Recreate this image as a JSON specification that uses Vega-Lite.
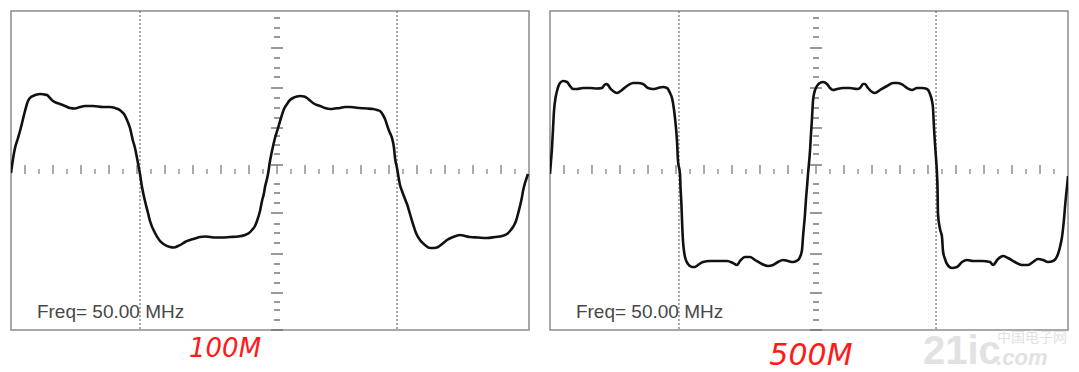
{
  "$schema": "https://vega.github.io/schema/vega-lite/v6.json",
  "background": "white",
  "padding": {"left": 10, "top": 9, "right": 0, "bottom": 0},
  "spacing": 21,
  "bounds": "flush",
  "config": {"view": {"stroke": "#8c8c8c", "strokeWidth": 1.5}},
  "datasets": {
    "wave100": [
      {"t":0,"v":0.025},{"t":0.154,"v":0.375},{"t":0.309,"v":0.65},{"t":0.541,"v":0.9},{"t":0.695,"v":1.075},{"t":0.927,"v":1.375},{"t":1.081,"v":1.575},{"t":1.313,"v":1.825},{"t":1.544,"v":1.925},{"t":1.699,"v":1.95},{"t":2.008,"v":1.988},{"t":2.239,"v":2.0},{"t":2.548,"v":1.988},{"t":2.78,"v":1.975},{"t":3.012,"v":1.9},{"t":3.243,"v":1.825},{"t":3.552,"v":1.775},{"t":3.784,"v":1.75},{"t":4.17,"v":1.7},{"t":4.556,"v":1.65},{"t":4.942,"v":1.638},{"t":5.328,"v":1.675},{"t":5.714,"v":1.7},{"t":6.332,"v":1.7},{"t":7.104,"v":1.675},{"t":7.645,"v":1.675},{"t":8.031,"v":1.65},{"t":8.263,"v":1.625},{"t":8.494,"v":1.575},{"t":8.726,"v":1.5},{"t":8.958,"v":1.35},{"t":9.189,"v":1.15},{"t":9.421,"v":0.825},{"t":9.575,"v":0.65},{"t":9.73,"v":0.4},{"t":9.846,"v":0.2},{"t":9.961,"v":0},{"t":10.116,"v":-0.325},{"t":10.347,"v":-0.675},{"t":10.579,"v":-0.975},{"t":10.734,"v":-1.175},{"t":11.12,"v":-1.475},{"t":11.506,"v":-1.675},{"t":11.892,"v":-1.775},{"t":12.278,"v":-1.825},{"t":12.587,"v":-1.838},{"t":12.896,"v":-1.8},{"t":13.205,"v":-1.75},{"t":13.436,"v":-1.7},{"t":13.822,"v":-1.65},{"t":14.208,"v":-1.613},{"t":14.595,"v":-1.575},{"t":14.981,"v":-1.563},{"t":15.367,"v":-1.575},{"t":15.753,"v":-1.588},{"t":16.293,"v":-1.588},{"t":16.911,"v":-1.575},{"t":17.529,"v":-1.563},{"t":18.069,"v":-1.525},{"t":18.378,"v":-1.475},{"t":18.61,"v":-1.4},{"t":18.842,"v":-1.3},{"t":18.996,"v":-1.175},{"t":19.228,"v":-0.925},{"t":19.382,"v":-0.675},{"t":19.537,"v":-0.475},{"t":19.614,"v":-0.325},{"t":19.768,"v":-0.125},{"t":19.846,"v":0},{"t":20.0,"v":0.325},{"t":20.154,"v":0.575},{"t":20.386,"v":0.9},{"t":20.618,"v":1.15},{"t":20.849,"v":1.4},{"t":21.081,"v":1.625},{"t":21.313,"v":1.75},{"t":21.544,"v":1.85},{"t":21.776,"v":1.9},{"t":22.085,"v":1.938},{"t":22.317,"v":1.95},{"t":22.626,"v":1.938},{"t":22.857,"v":1.9},{"t":23.089,"v":1.838},{"t":23.32,"v":1.775},{"t":23.629,"v":1.725},{"t":23.861,"v":1.7},{"t":24.247,"v":1.65},{"t":24.633,"v":1.625},{"t":25.019,"v":1.638},{"t":25.405,"v":1.65},{"t":25.791,"v":1.675},{"t":26.177,"v":1.675},{"t":26.563,"v":1.663},{"t":26.95,"v":1.65},{"t":27.49,"v":1.638},{"t":27.954,"v":1.625},{"t":28.263,"v":1.6},{"t":28.494,"v":1.575},{"t":28.726,"v":1.475},{"t":28.88,"v":1.375},{"t":29.112,"v":1.15},{"t":29.266,"v":1.025},{"t":29.421,"v":0.9},{"t":29.575,"v":0.65},{"t":29.653,"v":0.4},{"t":29.807,"v":0.15},{"t":29.884,"v":0},{"t":30.039,"v":-0.275},{"t":30.193,"v":-0.425},{"t":30.425,"v":-0.625},{"t":30.579,"v":-0.75},{"t":30.811,"v":-1.0},{"t":31.042,"v":-1.25},{"t":31.274,"v":-1.475},{"t":31.583,"v":-1.65},{"t":31.969,"v":-1.775},{"t":32.355,"v":-1.85},{"t":32.664,"v":-1.85},{"t":32.973,"v":-1.825},{"t":33.282,"v":-1.75},{"t":33.668,"v":-1.65},{"t":34.131,"v":-1.575},{"t":34.672,"v":-1.525},{"t":35.058,"v":-1.55},{"t":35.444,"v":-1.575},{"t":36.062,"v":-1.588},{"t":36.757,"v":-1.6},{"t":37.375,"v":-1.575},{"t":37.915,"v":-1.55},{"t":38.301,"v":-1.5},{"t":38.533,"v":-1.425},{"t":38.764,"v":-1.325},{"t":38.996,"v":-1.175},{"t":39.151,"v":-1.0},{"t":39.305,"v":-0.8},{"t":39.459,"v":-0.575},{"t":39.537,"v":-0.425},{"t":39.691,"v":-0.225},{"t":39.846,"v":-0.075},{"t":39.923,"v":0}
    ],
    "wave500": [
      {"t":0,"v":0},{"t":0.077,"v":0.325},{"t":0.154,"v":0.65},{"t":0.232,"v":1.125},{"t":0.309,"v":1.575},{"t":0.425,"v":1.9},{"t":0.541,"v":2.075},{"t":0.656,"v":2.2},{"t":0.772,"v":2.275},{"t":1.004,"v":2.325},{"t":1.313,"v":2.3},{"t":1.544,"v":2.2},{"t":1.776,"v":2.125},{"t":2.085,"v":2.125},{"t":2.548,"v":2.15},{"t":3.089,"v":2.15},{"t":3.629,"v":2.138},{"t":4.015,"v":2.15},{"t":4.17,"v":2.213},{"t":4.324,"v":2.25},{"t":4.479,"v":2.225},{"t":4.633,"v":2.15},{"t":4.865,"v":2.075},{"t":5.174,"v":2.025},{"t":5.56,"v":2.1},{"t":5.946,"v":2.2},{"t":6.409,"v":2.275},{"t":6.795,"v":2.275},{"t":7.181,"v":2.25},{"t":7.568,"v":2.15},{"t":7.954,"v":2.125},{"t":8.34,"v":2.15},{"t":8.726,"v":2.175},{"t":9.035,"v":2.15},{"t":9.266,"v":2.025},{"t":9.421,"v":1.9},{"t":9.498,"v":1.775},{"t":9.653,"v":1.4},{"t":9.807,"v":0.825},{"t":9.884,"v":0.325},{"t":10.039,"v":0},{"t":10.077,"v":-0.325},{"t":10.154,"v":-0.8},{"t":10.193,"v":-1.15},{"t":10.27,"v":-1.675},{"t":10.347,"v":-1.925},{"t":10.425,"v":-2.075},{"t":10.656,"v":-2.25},{"t":10.965,"v":-2.325},{"t":11.197,"v":-2.325},{"t":11.429,"v":-2.275},{"t":11.815,"v":-2.2},{"t":12.355,"v":-2.175},{"t":12.896,"v":-2.175},{"t":13.668,"v":-2.175},{"t":14.131,"v":-2.225},{"t":14.44,"v":-2.275},{"t":14.672,"v":-2.175},{"t":15.058,"v":-2.075},{"t":15.444,"v":-2.075},{"t":15.83,"v":-2.15},{"t":16.371,"v":-2.25},{"t":16.834,"v":-2.3},{"t":17.22,"v":-2.275},{"t":17.606,"v":-2.2},{"t":17.992,"v":-2.15},{"t":18.378,"v":-2.175},{"t":18.765,"v":-2.2},{"t":19.151,"v":-2.15},{"t":19.305,"v":-2.075},{"t":19.459,"v":-1.9},{"t":19.537,"v":-1.575},{"t":19.691,"v":-1.0},{"t":19.768,"v":-0.625},{"t":19.846,"v":-0.325},{"t":19.923,"v":0},{"t":20.077,"v":0.575},{"t":20.154,"v":1.0},{"t":20.232,"v":1.4},{"t":20.309,"v":1.825},{"t":20.386,"v":2.0},{"t":20.618,"v":2.2},{"t":20.849,"v":2.275},{"t":21.081,"v":2.3},{"t":21.39,"v":2.25},{"t":21.622,"v":2.15},{"t":21.853,"v":2.1},{"t":22.162,"v":2.125},{"t":22.625,"v":2.15},{"t":23.166,"v":2.15},{"t":23.707,"v":2.125},{"t":23.938,"v":2.15},{"t":24.17,"v":2.25},{"t":24.324,"v":2.25},{"t":24.556,"v":2.15},{"t":24.865,"v":2.05},{"t":25.097,"v":2.025},{"t":25.483,"v":2.1},{"t":26.023,"v":2.2},{"t":26.486,"v":2.275},{"t":26.873,"v":2.275},{"t":27.259,"v":2.225},{"t":27.568,"v":2.15},{"t":27.954,"v":2.1},{"t":28.34,"v":2.15},{"t":28.726,"v":2.15},{"t":29.112,"v":2.125},{"t":29.344,"v":2.0},{"t":29.498,"v":1.825},{"t":29.575,"v":1.65},{"t":29.653,"v":1.15},{"t":29.768,"v":0.575},{"t":29.884,"v":0},{"t":29.923,"v":-0.325},{"t":29.961,"v":-1.0},{"t":30.116,"v":-1.375},{"t":30.27,"v":-1.575},{"t":30.347,"v":-1.925},{"t":30.502,"v":-2.125},{"t":30.656,"v":-2.25},{"t":31.042,"v":-2.35},{"t":31.429,"v":-2.325},{"t":31.815,"v":-2.2},{"t":32.201,"v":-2.15},{"t":32.664,"v":-2.175},{"t":33.359,"v":-2.175},{"t":33.977,"v":-2.2},{"t":34.208,"v":-2.275},{"t":34.595,"v":-2.125},{"t":34.981,"v":-2.05},{"t":35.367,"v":-2.1},{"t":35.907,"v":-2.2},{"t":36.448,"v":-2.275},{"t":36.911,"v":-2.275},{"t":37.297,"v":-2.2},{"t":37.683,"v":-2.125},{"t":38.069,"v":-2.15},{"t":38.456,"v":-2.2},{"t":38.842,"v":-2.175},{"t":39.228,"v":-2.0},{"t":39.382,"v":-1.825},{"t":39.537,"v":-1.575},{"t":39.691,"v":-1.125},{"t":39.768,"v":-0.825},{"t":39.846,"v":-0.55},{"t":39.923,"v":-0.325},{"t":40.0,"v":-0.05}
    ],
    "hticks": [
      {"t":1.081,"kind":"major"},{"t":2.162,"kind":"minor"},{"t":3.243,"kind":"major"},{"t":4.324,"kind":"minor"},{"t":5.405,"kind":"major"},{"t":6.486,"kind":"minor"},{"t":7.568,"kind":"major"},{"t":8.649,"kind":"minor"},{"t":9.73,"kind":"major"},{"t":10.811,"kind":"minor"},{"t":11.892,"kind":"major"},{"t":12.973,"kind":"minor"},{"t":14.054,"kind":"major"},{"t":15.135,"kind":"minor"},{"t":16.216,"kind":"major"},{"t":17.297,"kind":"minor"},{"t":18.378,"kind":"major"},{"t":19.459,"kind":"minor"},{"t":20.541,"kind":"major"},{"t":21.622,"kind":"minor"},{"t":22.703,"kind":"major"},{"t":23.784,"kind":"minor"},{"t":24.865,"kind":"major"},{"t":25.946,"kind":"minor"},{"t":27.027,"kind":"major"},{"t":28.108,"kind":"minor"},{"t":29.189,"kind":"major"},{"t":30.27,"kind":"minor"},{"t":31.351,"kind":"major"},{"t":32.432,"kind":"minor"},{"t":33.514,"kind":"major"},{"t":34.595,"kind":"minor"},{"t":35.676,"kind":"major"},{"t":36.757,"kind":"minor"},{"t":37.838,"kind":"major"},{"t":38.919,"kind":"minor"}
    ],
    "vticks": [
      {"v":3.9,"kind":"minor"},{"v":3.65,"kind":"minor"},{"v":3.425,"kind":"minor"},{"v":3.15,"kind":"major"},{"v":2.9,"kind":"minor"},{"v":2.65,"kind":"minor"},{"v":2.425,"kind":"minor"},{"v":2.15,"kind":"major"},{"v":1.9,"kind":"minor"},{"v":1.65,"kind":"minor"},{"v":1.4,"kind":"minor"},{"v":1.15,"kind":"major"},{"v":0.95,"kind":"minor"},{"v":0.725,"kind":"minor"},{"v":0.5,"kind":"minor"},{"v":0.225,"kind":"major"},
      {"v":-0.25,"kind":"minor"},{"v":-0.475,"kind":"minor"},{"v":-0.725,"kind":"minor"},{"v":-0.975,"kind":"major"},{"v":-1.25,"kind":"minor"},{"v":-1.475,"kind":"minor"},{"v":-1.725,"kind":"minor"},{"v":-2.0,"kind":"major"},{"v":-2.25,"kind":"minor"},{"v":-2.475,"kind":"minor"},{"v":-2.725,"kind":"minor"},{"v":-2.975,"kind":"major"},{"v":-3.2,"kind":"minor"},{"v":-3.4,"kind":"minor"},{"v":-3.65,"kind":"minor"},{"v":-3.9,"kind":"major"}
    ],
    "dashed": [{"t":9.96},{"t":29.81}],
    "freq": [{"t":2.0,"v":-3.6,"label":"Freq= 50.00 MHz"}]
  },
  "hconcat": [
    {
      "width": 518,
      "height": 319,
      "layer": [
        {"data": {"name": "freq"}, "mark": {"type": "text", "align": "left", "baseline": "alphabetic", "font": "Liberation Sans", "fontSize": 19, "color": "#474747"},
         "encoding": {"x": {"field": "t", "type": "quantitative", "scale": {"domain": [0, 40], "nice": false, "zero": false}, "axis": null}, "y": {"field": "v", "type": "quantitative", "scale": {"domain": [-3.9, 4.075], "nice": false, "zero": false}, "axis": null}, "text": {"field": "label"}}},
        {"data": {"name": "dashed"}, "mark": {"type": "rule", "color": "#555", "strokeWidth": 1, "strokeDash": [2, 2]},
         "encoding": {"x": {"field": "t", "type": "quantitative", "axis": null}}},
        {"mark": {"type": "rule", "color": "#444", "strokeWidth": 1.5},
         "encoding": {"y": {"datum": 0, "type": "quantitative", "axis": null}}},
        {"data": {"name": "hticks"}, "transform": [{"filter": "datum.kind === 'major'"}], "mark": {"type": "rule", "color": "#555", "strokeWidth": 1},
         "encoding": {"x": {"field": "t", "type": "quantitative", "axis": null}, "y": {"datum": 0, "type": "quantitative", "axis": null}, "y2": {"datum": 0.225}}},
        {"data": {"name": "hticks"}, "transform": [{"filter": "datum.kind === 'minor'"}], "mark": {"type": "rule", "color": "#666", "strokeWidth": 1},
         "encoding": {"x": {"field": "t", "type": "quantitative", "axis": null}, "y": {"datum": 0, "type": "quantitative", "axis": null}, "y2": {"datum": 0.125}}},
        {"data": {"name": "vticks"}, "transform": [{"filter": "datum.kind === 'major'"}], "mark": {"type": "rule", "color": "#777", "strokeWidth": 1.5},
         "encoding": {"y": {"field": "v", "type": "quantitative", "axis": null}, "x": {"datum": 20.078, "type": "quantitative", "axis": null}, "x2": {"datum": 21.004}}},
        {"data": {"name": "vticks"}, "transform": [{"filter": "datum.kind === 'minor'"}], "mark": {"type": "rule", "color": "#777", "strokeWidth": 1.5},
         "encoding": {"y": {"field": "v", "type": "quantitative", "axis": null}, "x": {"datum": 20.309, "type": "quantitative", "axis": null}, "x2": {"datum": 20.773}}},
        {"data": {"name": "wave100"}, "mark": {"type": "line", "clip": true, "color": "#111", "strokeWidth": 2.6, "interpolate": "monotone"},
         "encoding": {"x": {"field": "t", "type": "quantitative", "axis": null}, "y": {"field": "v", "type": "quantitative", "axis": null}}},
        {"data": {"values": [{"t": 16.53, "v": -4.575, "label": "100M"}]}, "mark": {"type": "text", "align": "center", "baseline": "alphabetic", "font": "DejaVu Sans", "fontWeight": 200, "fontStyle": "italic", "fontSize": 26, "color": "#ff1a1a"},
         "encoding": {"x": {"field": "t", "type": "quantitative", "axis": null}, "y": {"field": "v", "type": "quantitative", "axis": null}, "text": {"field": "label"}}}
      ]
    },
    {
      "width": 518,
      "height": 319,
      "layer": [
        {"data": {"name": "freq"}, "mark": {"type": "text", "align": "left", "baseline": "alphabetic", "font": "Liberation Sans", "fontSize": 19, "color": "#474747"},
         "encoding": {"x": {"field": "t", "type": "quantitative", "scale": {"domain": [0, 40], "nice": false, "zero": false}, "axis": null}, "y": {"field": "v", "type": "quantitative", "scale": {"domain": [-3.9, 4.075], "nice": false, "zero": false}, "axis": null}, "text": {"field": "label"}}},
        {"data": {"name": "dashed"}, "mark": {"type": "rule", "color": "#555", "strokeWidth": 1, "strokeDash": [2, 2]},
         "encoding": {"x": {"field": "t", "type": "quantitative", "axis": null}}},
        {"mark": {"type": "rule", "color": "#444", "strokeWidth": 1.5},
         "encoding": {"y": {"datum": 0, "type": "quantitative", "axis": null}}},
        {"data": {"name": "hticks"}, "transform": [{"filter": "datum.kind === 'major'"}], "mark": {"type": "rule", "color": "#555", "strokeWidth": 1},
         "encoding": {"x": {"field": "t", "type": "quantitative", "axis": null}, "y": {"datum": 0, "type": "quantitative", "axis": null}, "y2": {"datum": 0.225}}},
        {"data": {"name": "hticks"}, "transform": [{"filter": "datum.kind === 'minor'"}], "mark": {"type": "rule", "color": "#666", "strokeWidth": 1},
         "encoding": {"x": {"field": "t", "type": "quantitative", "axis": null}, "y": {"datum": 0, "type": "quantitative", "axis": null}, "y2": {"datum": 0.125}}},
        {"data": {"name": "vticks"}, "transform": [{"filter": "datum.kind === 'major'"}], "mark": {"type": "rule", "color": "#777", "strokeWidth": 1.5},
         "encoding": {"y": {"field": "v", "type": "quantitative", "axis": null}, "x": {"datum": 20.078, "type": "quantitative", "axis": null}, "x2": {"datum": 21.004}}},
        {"data": {"name": "vticks"}, "transform": [{"filter": "datum.kind === 'minor'"}], "mark": {"type": "rule", "color": "#777", "strokeWidth": 1.5},
         "encoding": {"y": {"field": "v", "type": "quantitative", "axis": null}, "x": {"datum": 20.309, "type": "quantitative", "axis": null}, "x2": {"datum": 20.773}}},
        {"data": {"name": "wave500"}, "mark": {"type": "line", "clip": true, "color": "#111", "strokeWidth": 2.6, "interpolate": "monotone"},
         "encoding": {"x": {"field": "t", "type": "quantitative", "axis": null}, "y": {"field": "v", "type": "quantitative", "axis": null}}},
        {"data": {"values": [{"t": 20.15, "v": -4.775, "label": "500M"}]}, "mark": {"type": "text", "align": "center", "baseline": "alphabetic", "font": "DejaVu Sans", "fontWeight": 200, "fontStyle": "italic", "fontSize": 30, "color": "#ff1a1a"},
         "encoding": {"x": {"field": "t", "type": "quantitative", "axis": null}, "y": {"field": "v", "type": "quantitative", "axis": null}, "text": {"field": "label"}}},
        {"data": {"values": [{"t": 28.8, "v": -4.75, "label": "21ic"}]}, "mark": {"type": "text", "align": "left", "baseline": "alphabetic", "font": "Liberation Sans", "fontWeight": "bold", "fontSize": 40, "color": "#e2e2e2"},
         "encoding": {"x": {"field": "t", "type": "quantitative", "axis": null}, "y": {"field": "v", "type": "quantitative", "axis": null}, "text": {"field": "label"}}},
        {"data": {"values": [{"t": 34.52, "v": -4.2, "label": "中国电子网"}]}, "mark": {"type": "text", "align": "left", "baseline": "alphabetic", "font": "Noto Sans CJK SC", "fontSize": 14, "color": "#e2e2e2"},
         "encoding": {"x": {"field": "t", "type": "quantitative", "axis": null}, "y": {"field": "v", "type": "quantitative", "axis": null}, "text": {"field": "label"}}},
        {"data": {"values": [{"t": 34.45, "v": -4.78, "label": ".com"}]}, "mark": {"type": "text", "align": "left", "baseline": "alphabetic", "font": "Liberation Sans", "fontWeight": "bold", "fontStyle": "italic", "fontSize": 22, "color": "#e2e2e2"},
         "encoding": {"x": {"field": "t", "type": "quantitative", "axis": null}, "y": {"field": "v", "type": "quantitative", "axis": null}, "text": {"field": "label"}}}
      ]
    }
  ]
}
